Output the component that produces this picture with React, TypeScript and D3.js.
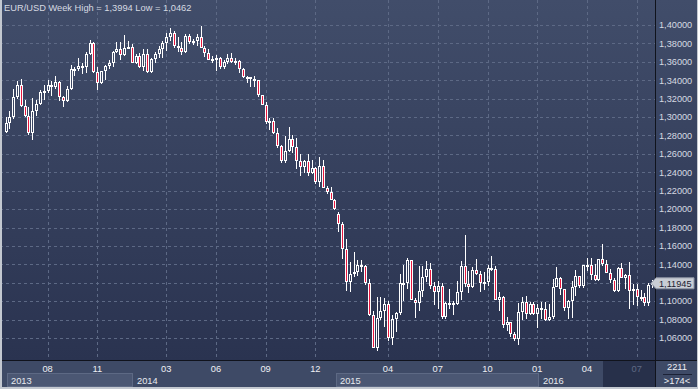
import React from "react";
import * as d3 from "d3";

// Weekly EUR/USD bars, May 2013 – Aug 2016 (year-end weeks split at 1 Jan)
const open = [
  1.2840, 1.2935, 1.3000, 1.3220, 1.3345, 1.3120, 1.3010, 1.2830, 1.3065, 1.3140,
  1.3275, 1.3280, 1.3345, 1.3325, 1.3380, 1.3220, 1.3175, 1.3300, 1.3525, 1.3525,
  1.3555, 1.3545, 1.3685, 1.3805, 1.3485, 1.3365, 1.3500, 1.3555, 1.3590, 1.3705,
  1.3740, 1.3675, 1.3745, 1.3765, 1.3590, 1.3665, 1.3540, 1.3680, 1.3485, 1.3635,
  1.3690, 1.3740, 1.3805, 1.3875, 1.3915, 1.3775, 1.3750, 1.3705, 1.3885, 1.3815,
  1.3830, 1.3870, 1.3755, 1.3695, 1.3625, 1.3635, 1.3640, 1.3540, 1.3600, 1.3645,
  1.3595, 1.3605, 1.3525, 1.3430, 1.3430, 1.3410, 1.3400, 1.3240, 1.3130, 1.2950,
  1.2960, 1.2830, 1.2685, 1.2525, 1.2630, 1.2760, 1.2670, 1.2525, 1.2455, 1.2525,
  1.2390, 1.2450, 1.2290, 1.2465, 1.2230, 1.2185, 1.2100, 1.1950, 1.1840, 1.1565,
  1.1205, 1.1290, 1.1315, 1.1390, 1.1380, 1.1195, 1.0845, 1.0495, 1.0820, 1.0890,
  1.0970, 1.0600, 1.0805, 1.0875, 1.1200, 1.1200, 1.1450, 1.1015, 1.0985, 1.1110,
  1.1260, 1.1350, 1.1165, 1.1105, 1.1160, 1.0830, 1.0980, 1.0985, 1.0965, 1.1105,
  1.1385, 1.1185, 1.1150, 1.1340, 1.1295, 1.1195, 1.1210, 1.1360, 1.1350, 1.1015,
  1.1045, 1.0740, 1.0770, 1.0645, 1.0590, 1.0880, 1.0990, 1.0865, 1.0965, 1.0860,
  1.0925, 1.0915, 1.0795, 1.0830, 1.1155, 1.1255, 1.1130, 1.0930, 1.1005, 1.1150,
  1.1270, 1.1165, 1.1390, 1.1395, 1.1285, 1.1225, 1.1455, 1.1400, 1.1310, 1.1225,
  1.1115, 1.1365, 1.1255, 1.1280, 1.1115, 1.1135, 1.1050, 1.1040, 1.0975, 1.1175,
];
const high = [
  1.2997, 1.3062, 1.3306, 1.3390, 1.3415, 1.3190, 1.3110, 1.3207, 1.3180, 1.3298,
  1.3345, 1.3400, 1.3390, 1.3450, 1.3395, 1.3230, 1.3340, 1.3570, 1.3545, 1.3645,
  1.3590, 1.3705, 1.3832, 1.3815, 1.3545, 1.3505, 1.3570, 1.3620, 1.3715, 1.3810,
  1.3810, 1.3893, 1.3830, 1.3790, 1.3687, 1.3700, 1.3740, 1.3740, 1.3640, 1.3710,
  1.3775, 1.3825, 1.3915, 1.3967, 1.3935, 1.3875, 1.3810, 1.3905, 1.3905, 1.3850,
  1.3905, 1.3994, 1.3775, 1.3735, 1.3665, 1.3670, 1.3650, 1.3615, 1.3680, 1.3700,
  1.3645, 1.3625, 1.3530, 1.3445, 1.3440, 1.3445, 1.3400, 1.3245, 1.3165, 1.2995,
  1.2995, 1.2885, 1.2700, 1.2790, 1.2887, 1.2810, 1.2770, 1.2600, 1.2530, 1.2600,
  1.2530, 1.2455, 1.2570, 1.2530, 1.2255, 1.2245, 1.2105, 1.1965, 1.1865, 1.1680,
  1.1423, 1.1535, 1.1450, 1.1450, 1.1390, 1.1240, 1.0890, 1.1043, 1.1050, 1.1035,
  1.1000, 1.0850, 1.0880, 1.1290, 1.1390, 1.1467, 1.1450, 1.1035, 1.1385, 1.1385,
  1.1435, 1.1410, 1.1205, 1.1215, 1.1200, 1.0995, 1.1130, 1.1000, 1.1215, 1.1440,
  1.1714, 1.1330, 1.1370, 1.1460, 1.1330, 1.1318, 1.1390, 1.1495, 1.1385, 1.1095,
  1.1060, 1.0830, 1.0775, 1.0660, 1.0980, 1.1045, 1.1060, 1.0990, 1.0995, 1.0970,
  1.0990, 1.0990, 1.0965, 1.1245, 1.1375, 1.1265, 1.1135, 1.1015, 1.1215, 1.1340,
  1.1275, 1.1395, 1.1465, 1.1465, 1.1400, 1.1460, 1.1616, 1.1445, 1.1350, 1.1255,
  1.1375, 1.1415, 1.1300, 1.1428, 1.1185, 1.1185, 1.1120, 1.1085, 1.1198, 1.1234,
];
const low = [
  1.2826, 1.2870, 1.2983, 1.3200, 1.3105, 1.3005, 1.2805, 1.2755, 1.3010, 1.3130,
  1.3185, 1.3260, 1.3225, 1.3300, 1.3175, 1.3105, 1.3165, 1.3290, 1.3450, 1.3500,
  1.3465, 1.3480, 1.3675, 1.3480, 1.3295, 1.3360, 1.3400, 1.3525, 1.3545, 1.3700,
  1.3625, 1.3665, 1.3735, 1.3585, 1.3575, 1.3530, 1.3500, 1.3480, 1.3475, 1.3590,
  1.3640, 1.3640, 1.3715, 1.3830, 1.3750, 1.3705, 1.3670, 1.3700, 1.3790, 1.3780,
  1.3770, 1.3750, 1.3647, 1.3615, 1.3585, 1.3503, 1.3525, 1.3525, 1.3580, 1.3590,
  1.3570, 1.3475, 1.3425, 1.3365, 1.3330, 1.3325, 1.3215, 1.3130, 1.2920, 1.2860,
  1.2815, 1.2665, 1.2500, 1.2500, 1.2620, 1.2615, 1.2440, 1.2357, 1.2395, 1.2360,
  1.2380, 1.2270, 1.2245, 1.2225, 1.2165, 1.2100, 1.1995, 1.1755, 1.1460, 1.1115,
  1.1098, 1.1262, 1.1270, 1.1315, 1.1175, 1.0840, 1.0494, 1.0462, 1.0795, 1.0715,
  1.0565, 1.0520, 1.0660, 1.0850, 1.1000, 1.1130, 1.1010, 1.0820, 1.0890, 1.1050,
  1.1210, 1.1130, 1.0955, 1.0915, 1.0810, 1.0808, 1.0915, 1.0850, 1.0960, 1.1015,
  1.1155, 1.1085, 1.1145, 1.1285, 1.1105, 1.1125, 1.1160, 1.1330, 1.1010, 1.0895,
  1.0705, 1.0675, 1.0615, 1.0565, 1.0524, 1.0795, 1.0805, 1.0850, 1.0855, 1.0710,
  1.0805, 1.0780, 1.0780, 1.0810, 1.1150, 1.1065, 1.0895, 1.0810, 1.0820, 1.1055,
  1.1145, 1.1145, 1.1330, 1.1235, 1.1215, 1.1215, 1.1385, 1.1305, 1.1200, 1.1100,
  1.1100, 1.1250, 1.1130, 1.0912, 1.0960, 1.0950, 1.1000, 1.0950, 1.0950, 1.1140,
];
const close = [
  1.2935, 1.3000, 1.3220, 1.3345, 1.3120, 1.3010, 1.2830, 1.3065, 1.3140, 1.3275,
  1.3280, 1.3345, 1.3325, 1.3380, 1.3220, 1.3175, 1.3300, 1.3525, 1.3525, 1.3555,
  1.3545, 1.3685, 1.3805, 1.3485, 1.3365, 1.3500, 1.3555, 1.3590, 1.3705, 1.3740,
  1.3675, 1.3745, 1.3765, 1.3590, 1.3665, 1.3540, 1.3680, 1.3485, 1.3635, 1.3690,
  1.3740, 1.3805, 1.3875, 1.3915, 1.3775, 1.3750, 1.3705, 1.3885, 1.3815, 1.3830,
  1.3870, 1.3755, 1.3695, 1.3625, 1.3635, 1.3640, 1.3540, 1.3600, 1.3645, 1.3595,
  1.3605, 1.3525, 1.3430, 1.3430, 1.3410, 1.3400, 1.3240, 1.3130, 1.2950, 1.2960,
  1.2830, 1.2685, 1.2525, 1.2630, 1.2760, 1.2670, 1.2525, 1.2455, 1.2525, 1.2390,
  1.2450, 1.2290, 1.2465, 1.2230, 1.2185, 1.2100, 1.2000, 1.1840, 1.1565, 1.1205,
  1.1290, 1.1315, 1.1390, 1.1380, 1.1195, 1.0845, 1.0495, 1.0820, 1.0890, 1.0970,
  1.0600, 1.0805, 1.0875, 1.1200, 1.1200, 1.1450, 1.1015, 1.0985, 1.1110, 1.1260,
  1.1350, 1.1165, 1.1105, 1.1160, 1.0830, 1.0980, 1.0985, 1.0965, 1.1105, 1.1385,
  1.1185, 1.1150, 1.1340, 1.1295, 1.1195, 1.1210, 1.1360, 1.1350, 1.1015, 1.1045,
  1.0740, 1.0770, 1.0645, 1.0590, 1.0880, 1.0990, 1.0865, 1.0965, 1.0860, 1.0925,
  1.0915, 1.0795, 1.0830, 1.1155, 1.1255, 1.1130, 1.0930, 1.1005, 1.1150, 1.1270,
  1.1165, 1.1390, 1.1395, 1.1285, 1.1225, 1.1455, 1.1400, 1.1310, 1.1225, 1.1115,
  1.1365, 1.1255, 1.1280, 1.1115, 1.1135, 1.1050, 1.1040, 1.0975, 1.1175, 1.11945,
];

const yTicks = [1.06, 1.08, 1.1, 1.12, 1.14, 1.16, 1.18, 1.2, 1.22, 1.24, 1.26, 1.28, 1.3, 1.32, 1.34, 1.36, 1.38, 1.4];
const monthLabels = ["08", "11", "03", "06", "09", "12", "04", "07", "10", "01", "04", "07"];
const monthBar = [11, 24, 42, 55, 68, 81, 100, 113, 126, 139, 152, 165];
const yearLabels = ["2013", "2014", "2015", "2016"];
const yearBar = [0, 33, 86, 139];
const symbol = "EUR/USD";
const period = "Week";
const barCountTop = "2211";
const barCountBottom = ">174<";

const W = 698;
const H = 389;
const PLOT_B = 360;
const AXIS_X = 655;
const FONT = "'Liberation Sans', Arial, sans-serif";

const fmt = (v: number, d: number) => d3.format(`.${d}f`)(v).replace(".", ",");

export default function App() {
  const n = close.length;
  const x = d3.scaleLinear().domain([0, n - 1]).range([5.5, 652]);
  const y = d3.scaleLinear().domain([1.06, 1.4]).range([338, 25]);
  const hi = d3.max(high) as number;
  const lo = d3.min(low) as number;
  const last = close[n - 1];
  const ly = y(last);

  const candles = d3.range(n).map((i) => {
    const cx = Math.round(x(i)) + 0.5;
    const o = open[i], c = close[i];
    const up = c >= o;
    const top = Math.round(y(Math.max(o, c)));
    let bot = Math.round(y(Math.min(o, c)));
    if (bot - top < 2) bot = top + 2;
    const yh = Math.round(y(high[i]));
    const yl = Math.round(y(low[i]));
    return (
      <g key={i}>
        {yh < top && <line x1={cx} x2={cx} y1={yh} y2={top} stroke="#ffffff" strokeWidth={1} />}
        {yl > bot && <line x1={cx} x2={cx} y1={bot} y2={yl} stroke="#ffffff" strokeWidth={1} />}
        <rect x={cx - 1} y={top + 0.5} width={2} height={bot - top - 1} fill={up ? "none" : "#e8173f"} stroke="#ffffff" strokeWidth={1} />
      </g>
    );
  });

  return (
    <svg width={W} height={H} style={{ position: "absolute", left: 0, top: 0, display: "block" }} fontFamily={FONT}>
      <defs>
        <linearGradient id="bg" gradientUnits="userSpaceOnUse" x1={0} y1={0} x2={0} y2={PLOT_B}>
          <stop offset="0" stopColor="#414d6a" />
          <stop offset="1" stopColor="#2a3350" />
        </linearGradient>
      </defs>
      <rect x={0} y={0} width={W} height={PLOT_B} fill="url(#bg)" />
      {/* grid */}
      {yTicks.map((t) => (
        <line key={"gy" + t} x1={0} x2={AXIS_X} y1={Math.round(y(t)) + 0.5} y2={Math.round(y(t)) + 0.5} stroke="#5d6985" strokeWidth={1} strokeDasharray="3,3" />
      ))}
      {monthBar.map((b, i) => (
        <line key={"gx" + i} x1={Math.round(x(b)) + 0.5} x2={Math.round(x(b)) + 0.5} y1={0} y2={PLOT_B} stroke="#5d6985" strokeWidth={1} strokeDasharray="3,3" />
      ))}
      {candles}
      {/* title */}
      <text x={4} y={11} fontSize={9.3} fill="#d6dae2">
        {`${symbol} ${period} High = ${fmt(hi, 4)} Low = ${fmt(lo, 4)}`}
      </text>
      {/* right axis labels */}
      {yTicks.map((t) => (
        <text key={"yl" + t} x={659} y={y(t) + 3.3} fontSize={9.2} fill="#d6dae2">
          {fmt(t, 5)}
        </text>
      ))}
      {/* bottom panel */}
      <rect x={0} y={PLOT_B} width={W} height={H - PLOT_B} fill="#3e4a66" />
      {yearBar.map((b, i) => {
        const x0 = i === 0 ? 7 : Math.round(x(b) + 1.5);
        const x1 = i < yearBar.length - 1 ? Math.round(x(yearBar[i + 1]) + 1.5) : AXIS_X;
        return (
          <g key={"yr" + i}>
            {i % 2 === 0 && <rect x={x0 + 0.5} y={373.5} width={x1 - x0 - 1} height={13} fill="#4b5773" stroke="#5d6984" />}
            <text x={x0 + 4} y={384} fontSize={9.3} fill="#e8ebf0">{yearLabels[i]}</text>
          </g>
        );
      })}
      <rect x={603} y={361} width={AXIS_X - 603} height={26} fill="#27304a" />
      {monthBar.map((b, i) => (
        <text key={"ml" + i} x={x(b)} y={372} fontSize={9.3} textAnchor="middle" fill={x(b) > 603 ? "#5f6a84" : "#eef0f4"}>
          {monthLabels[i]}
        </text>
      ))}
      {/* right-bottom box */}
      <rect x={AXIS_X} y={PLOT_B} width={W - AXIS_X} height={H - PLOT_B} fill="#3e4a66" />
      <text x={677} y={370} fontSize={9.3} textAnchor="middle" fill="#eef0f4">{barCountTop}</text>
      <line x1={663} x2={692} y1={374.5} y2={374.5} stroke="#1c2236" />
      <text x={677} y={384} fontSize={9.3} textAnchor="middle" fill="#eef0f4">{barCountBottom}</text>
      {/* frame lines */}
      <line x1={0} x2={W} y1={PLOT_B + 0.5} y2={PLOT_B + 0.5} stroke="#10131c" />
      <line x1={AXIS_X + 0.5} x2={AXIS_X + 0.5} y1={0} y2={387} stroke="#10131c" />
      <rect x={0} y={387} width={W} height={2} fill="#c3c8d0" />
      <rect x={0} y={0} width={2} height={H} fill="#c3c8d0" />
      <rect x={W - 1} y={0} width={1} height={H} fill="#c3c8d0" />
      {/* last price marker */}
      <path d={`M651,${ly} L656,${ly - 5.5} L694,${ly - 5.5} L694,${ly + 5.5} L656,${ly + 5.5} Z`} fill="#c9cdd5" stroke="#8c93a3" strokeWidth={1} />
      <text x={659} y={ly + 3.3} fontSize={9.2} fill="#1b2130">{fmt(last, 5)}</text>
    </svg>
  );
}
